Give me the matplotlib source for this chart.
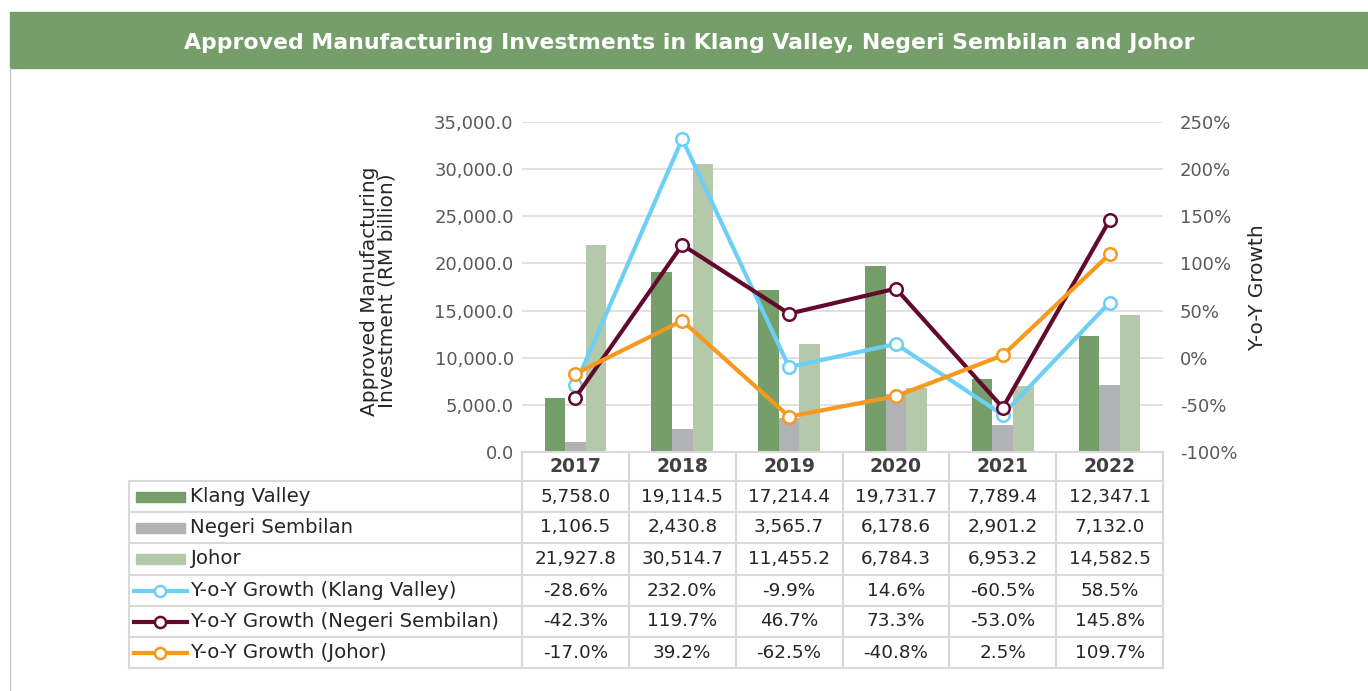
import numpy as np
import matplotlib.pyplot as plt
from matplotlib.lines import Line2D
from matplotlib.patches import Rectangle
from matplotlib.ticker import FuncFormatter

plt.rcParams['font.family'] = ['DejaVu Sans']

years = ["2017", "2018", "2019", "2020", "2021", "2022"]
klang = [5758.0, 19114.5, 17214.4, 19731.7, 7789.4, 12347.1]
negeri = [1106.5, 2430.8, 3565.7, 6178.6, 2901.2, 7132.0]
johor = [21927.8, 30514.7, 11455.2, 6784.3, 6953.2, 14582.5]
g_klang = [-28.6, 232.0, -9.9, 14.6, -60.5, 58.5]
g_negeri = [-42.3, 119.7, 46.7, 73.3, -53.0, 145.8]
g_johor = [-17.0, 39.2, -62.5, -40.8, 2.5, 109.7]

bar_names = ["Klang Valley", "Negeri Sembilan", "Johor"]
line_names = ["Y-o-Y Growth (Klang Valley)", "Y-o-Y Growth (Negeri Sembilan)",
              "Y-o-Y Growth (Johor)"]
bar_colors = ["#759E6A", "#B1B2B4", "#B4C9A9"]
line_colors = ["#6DCFF6", "#64092E", "#F7991F"]
title = "Approved Manufacturing Investments in Klang Valley, Negeri Sembilan and Johor"

W, H = 1368, 691
fig = plt.figure(figsize=(W / 100, H / 100), dpi=100)


def fx(px):
    return px / W


def fy(py):
    return 1 - py / H


# banner
fig.patches.append(Rectangle((fx(10), fy(68)), fx(1358), 56 / H, transform=fig.transFigure,
                             color="#759E6A", zorder=0))
fig.text(fx(689), fy(43), title, color="white", fontweight="bold", fontsize=15.8,
         ha="center", va="center")
fig.lines.append(Line2D([fx(10), fx(10)], [fy(68), 0], transform=fig.transFigure,
                        color="#BFBFBF", lw=0.8))

# chart
x0, x1, ytop, ybot = 522, 1163, 122, 452
ax = fig.add_axes([fx(x0), fy(ybot), fx(x1 - x0), (ybot - ytop) / H])
x = np.arange(len(years))
w = 0.192
for i, (vals, c) in enumerate(zip([klang, negeri, johor], bar_colors)):
    ax.bar(x + (i - 1) * w, vals, w, color=c, zorder=2)
ax.set_xlim(-0.5, len(years) - 0.5)
ax.set_ylim(0, 35000)
ax.set_yticks(np.arange(0, 35001, 5000))
ax.yaxis.set_major_formatter(FuncFormatter(lambda v, p: f"{v:,.1f}"))
ax.grid(axis="y", color="#DEDEDE", lw=1.3, zorder=0)
ax.set_axisbelow(True)
ax.set_xticks([])
ax.tick_params(axis="y", length=0, pad=6, labelsize=13, labelcolor="#595959")
for s in ax.spines.values():
    s.set_visible(False)

ax2 = ax.twinx()
for vals, c in zip([g_klang, g_negeri, g_johor], line_colors):
    ax2.plot(x, vals, color=c, lw=3, marker="o", ms=9, mfc="white", mec=c, mew=1.8,
             zorder=3)
ax2.set_ylim(-100, 250)
ax2.set_yticks(np.arange(-100, 251, 50))
ax2.yaxis.set_major_formatter(FuncFormatter(lambda v, p: f"{v:.0f}%"))
ax2.tick_params(axis="y", length=0, pad=12, labelsize=13, labelcolor="#595959")
for s in ax2.spines.values():
    s.set_visible(False)

fig.text(fx(378), fy(291), "Approved Manufacturing\nInvestment (RM billion)", rotation=90,
         ha="center", va="center", fontsize=14.5, color="#262626", linespacing=0.92)
fig.text(fx(1258), fy(288), "Y-o-Y Growth", rotation=90, ha="center", va="center",
         fontsize=14.5, color="#262626")

# data table
tl, tb = 129, 668
col_w = (x1 - x0) / len(years)
tab = fig.add_axes([fx(tl), fy(tb), fx(x1 - tl), (tb - ybot) / H])
tab.set_xlim(tl, x1)
tab.set_ylim(tb, ybot)
tab.axis("off")
rows = [452, 481, 512, 543, 575, 606, 637, 668]
lc = "#D9D9D9"
tab.plot([x0, x1], [rows[0], rows[0]], color=lc, lw=1.5, clip_on=False)
for r in rows[1:]:
    tab.plot([tl, x1], [r, r], color=lc, lw=1.5, clip_on=False)
tab.plot([tl, tl], [rows[1], tb], color=lc, lw=1.5, clip_on=False)
for k in range(len(years) + 1):
    xx = x0 + k * col_w
    tab.plot([xx, xx], [rows[0], tb], color=lc, lw=1.5, clip_on=False)

centers = [x0 + (k + 0.5) * col_w for k in range(len(years))]
ymid = [(rows[k] + rows[k + 1]) / 2 for k in range(len(rows) - 1)]
for cx, yr in zip(centers, years):
    tab.text(cx, ymid[0], yr, ha="center", va="center", fontsize=13.5,
             fontweight="bold", color="#404040")

all_vals = [klang, negeri, johor, g_klang, g_negeri, g_johor]
for r, vals in enumerate(all_vals):
    ym = ymid[r + 1]
    for cx, v in zip(centers, vals):
        s = f"{v:,.1f}" if r < 3 else f"{v:.1f}%"
        tab.text(cx, ym, s, ha="center", va="center", fontsize=13.2, color="#262626")

for r, (name, c) in enumerate(zip(bar_names, bar_colors)):
    ym = ymid[r + 1]
    tab.add_patch(Rectangle((136, ym - 5), 49, 10, color=c))
    tab.text(190, ym, name, ha="left", va="center", fontsize=14.2, color="#262626")
for r, (name, c) in enumerate(zip(line_names, line_colors)):
    ym = ymid[r + 4]
    tab.plot([134, 187], [ym, ym], color=c, lw=3)
    tab.plot([160], [ym], marker="o", ms=8, mfc="white", mec=c, mew=1.8)
    tab.text(190, ym, name, ha="left", va="center", fontsize=14.2, color="#262626")

fig.savefig("out.png", dpi=100)
